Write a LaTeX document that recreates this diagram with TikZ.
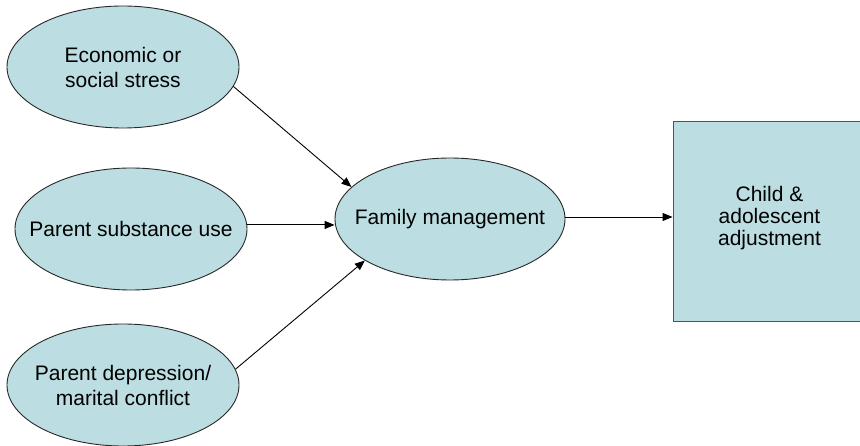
\documentclass[tikz,border=0pt]{standalone}
\usepackage{fontspec}
\setmainfont{Liberation Sans}
\usetikzlibrary{shapes.geometric,arrows.meta}
\definecolor{boxfill}{RGB}{188,222,226}
\definecolor{edge}{RGB}{40,40,40}
\tikzset{
  % ellipse of fixed size; its text is set as a centred label so it cannot grow the shape
  factor/.style={ellipse, draw=edge, line width=0.9pt, fill=boxfill,
    minimum width=232pt, minimum height=122pt, inner sep=0pt,
    label={[align=center, font=\fontsize{21}{25}\selectfont]center:#1}},
  outcome/.style={rectangle, draw=edge!80, line width=0.9pt, fill=boxfill,
    minimum width=220pt, minimum height=200pt, inner sep=0pt},
  arr/.style={draw=black, line width=0.9pt, -{Triangle[length=10pt,width=8pt]}}
}
\begin{document}
\begin{tikzpicture}[x=1pt,y=-1pt]
\useasboundingbox (0,0) rectangle (860,446);
\clip (0,0) rectangle (860,446);
\fill[white] (0,0) rectangle (860,446);

\node[factor={Economic or\\social stress}] (stress) at (123,67) {};
\node[factor={Parent substance use}] (subst) at (131,229) {};
\node[factor={Parent depression/\\marital conflict}] (depr) at (123,385) {};
\node[factor={Family management}, minimum width=230pt] (fam) at (450,219) {};
% the outcome box runs past the right edge of the page
\node[outcome] (adj) at (783,221) {};
\node[align=center, font=\fontsize{21}{22}\selectfont] (adjtext) at (769.5,218) {Child \&\\adolescent\\adjustment};

\draw[arr] (stress.-10) -- (fam.162);
\draw[arr] (subst.2) -- (subst.2 -| fam.west);
\draw[arr] (depr.8) -- (fam.206);
\draw[arr] (fam.1.5) -- (fam.1.5 -| adj.west);
\end{tikzpicture}
\end{document}
